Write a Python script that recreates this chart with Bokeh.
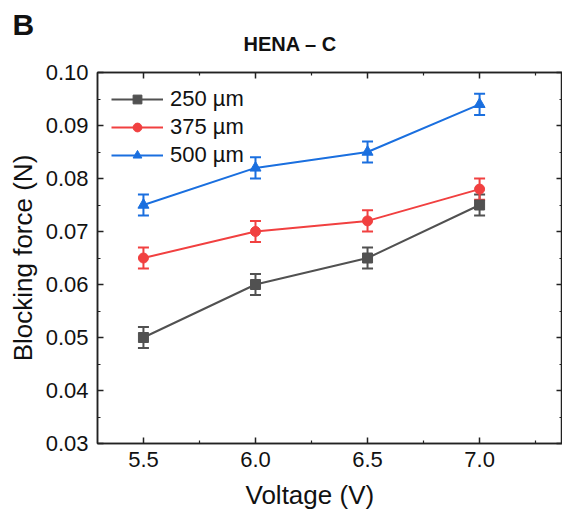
from bokeh.plotting import figure
from bokeh.models import (Range1d, LinearAxis, FixedTicker, NumeralTickFormatter,
                          Whisker, TeeHead, ColumnDataSource, Legend, LegendItem, Title)
from bokeh.embed import file_html
from bokeh.resources import INLINE

voltage = [5.5, 6.0, 6.5, 7.0]
force_250 = [0.050, 0.060, 0.065, 0.075]
err_250 = [0.002, 0.002, 0.002, 0.002]
force_375 = [0.065, 0.070, 0.072, 0.078]
err_375 = [0.002, 0.002, 0.002, 0.002]
force_500 = [0.075, 0.082, 0.085, 0.094]
err_500 = [0.002, 0.002, 0.002, 0.002]
labels = ["250 µm", "375 µm", "500 µm"]
colors = ["#515151", "#F14040", "#1A6FDF"]
x_ticks = [5.5, 6.0, 6.5, 7.0]
x_minor = [5.25, 5.75, 6.25, 6.75, 7.25]
y_ticks = [0.03, 0.04, 0.05, 0.06, 0.07, 0.08, 0.09, 0.10]
y_minor = [0.035, 0.045, 0.055, 0.065, 0.075, 0.085, 0.095]

FONT = "Liberation Sans"

p = figure(width=562, height=519, output_backend="svg", toolbar_location=None,
           x_range=Range1d(5.295, 7.37), y_range=Range1d(0.03, 0.10),
           min_border_left=97, min_border_right=0, min_border_top=72, min_border_bottom=76,
           x_axis_location=None, y_axis_location=None)
p.grid.visible = False
p.outline_line_color = "#222222"
p.outline_line_width = 1.5

def style_axis(ax, ticks, minor, fmt, show_labels):
    ax.ticker = FixedTicker(ticks=ticks, minor_ticks=minor)
    ax.formatter = NumeralTickFormatter(format=fmt)
    ax.major_tick_in = 6
    ax.major_tick_out = 0
    ax.minor_tick_in = 3
    ax.minor_tick_out = 0
    ax.axis_line_color = "#222222"
    ax.axis_line_width = 1.5
    ax.major_tick_line_color = "#222222"
    ax.major_tick_line_width = 1.5
    ax.minor_tick_line_color = "#222222"
    ax.minor_tick_line_width = 1.2
    ax.major_label_text_font = FONT
    ax.major_label_text_font_size = "22px"
    ax.major_label_text_color = "#111111" if show_labels else None
    ax.axis_label_text_font = FONT
    ax.axis_label_text_font_size = "26px"
    ax.axis_label_text_font_style = "normal"
    ax.axis_label_text_color = "#111111"

xb = LinearAxis()
style_axis(xb, x_ticks, x_minor, "0.0", True)
xb.major_label_standoff = 8
p.add_layout(xb, "below")
p.add_layout(Title(text="Voltage (V)", align="left", offset=148, text_font=FONT,
                   text_font_style="normal", text_font_size="26px", text_color="#111111",
                   standoff=16), "below")

yl = LinearAxis(axis_label="Blocking force (N)")
style_axis(yl, y_ticks, y_minor, "0.00", True)
yl.major_label_standoff = 9
yl.axis_label_standoff = 5
p.add_layout(yl, "left")

xt = LinearAxis()
style_axis(xt, x_ticks, x_minor, "0.0", False)
xt.major_label_text_font_size = "0px"
xt.major_label_standoff = 0
p.add_layout(xt, "above")

yr = LinearAxis()
style_axis(yr, y_ticks, y_minor, "0.00", False)
yr.major_label_text_font_size = "0px"
yr.major_label_standoff = 0
p.add_layout(yr, "right")

series = [(force_250, err_250, "square", 10), (force_375, err_375, "circle", 10), (force_500, err_500, "triangle", 11)]
items = []
for (vals, errs, marker, size), lab, col in zip(series, labels, colors):
    src = ColumnDataSource(dict(x=voltage, y=vals,
                                lo=[v - e for v, e in zip(vals, errs)],
                                hi=[v + e for v, e in zip(vals, errs)]))
    w = Whisker(source=src, base="x", lower="lo", upper="hi", dimension="height",
                line_color=col, line_width=2,
                lower_head=TeeHead(size=11, line_color=col, line_width=2),
                upper_head=TeeHead(size=11, line_color=col, line_width=2))
    p.add_layout(w)
    ln = p.line("x", "y", source=src, line_color=col, line_width=2)
    sc = p.scatter("x", "y", source=src, marker=marker, size=size, fill_color=col, line_color=col)
    items.append(LegendItem(label=lab, renderers=[ln, sc]))

leg = Legend(items=items, location="top_left")
leg.label_text_font = FONT
leg.label_text_font_size = "22px"
leg.label_text_color = "#111111"
leg.glyph_width = 52
leg.glyph_height = 22
leg.label_height = 22
leg.label_standoff = 7
leg.spacing = 2
leg.padding = 8
leg.margin = 14
leg.border_line_color = None
leg.background_fill_color = "white"
p.add_layout(leg)

p.title = Title(text="B", align="left", offset=-85, text_font=FONT,
                text_font_style="bold", text_font_size="30px", text_color="#111111",
                standoff=-56)
p.add_layout(Title(text="HENA – C", align="left", offset=146, text_font=FONT,
                   text_font_style="bold", text_font_size="20px", text_color="#111111",
                   standoff=36), "above")

open("out.html", "w").write(file_html(p, INLINE))
